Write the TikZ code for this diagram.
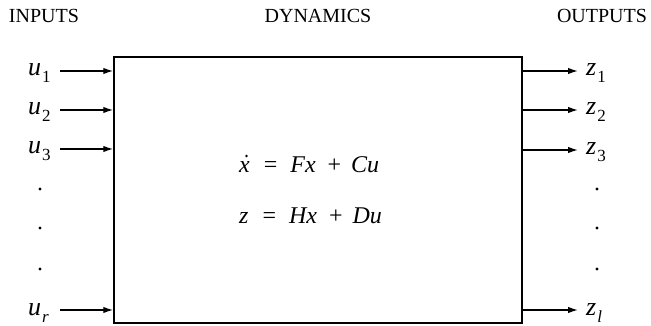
\documentclass[tikz,border=0pt]{standalone}
\usepackage{fontspec}
\setmainfont{Liberation Serif}
\usetikzlibrary{arrows.meta}
\newcommand{\lbl}[2]{\fontsize{26}{26}\selectfont\textit{#1}\hspace{1pt}\raisebox{-7pt}{\fontsize{17}{17}\selectfont #2}}
\begin{document}
\begin{tikzpicture}[x=1pt,y=-1pt,
  arr/.style={line width=1.4pt,-{Latex[length=10pt,width=6.5pt]}},
  hdr/.style={font=\fontsize{20}{20}\selectfont,inner sep=0pt,anchor=base},
  lab/.style={inner sep=0pt,anchor=base west},
  eqn/.style={font=\fontsize{24}{24}\selectfont,inner sep=0pt,anchor=base west},
  dotmark/.style={circle,fill,inner sep=0pt,minimum size=3.4pt}]
\useasboundingbox (0,0) rectangle (651,326);
\node[hdr] (hin) at (44,23) {INPUTS};
\node[hdr] (hdyn) at (318,23) {DYNAMICS};
\node[hdr] (hout) at (602,23) {OUTPUTS};
\node[draw,line width=1.5pt,minimum width=408pt,minimum height=266pt,inner sep=0pt] (box) at (318,190) {};
% inputs
\foreach \n/\s/\y in {u1/1/71,u2/2/110,u3/3/149,ur/\textit{r}/310}{
  \node[lab] (l\n) at (28,\y+5) {\lbl{u}{\s}};
  \coordinate (s\n) at (60,\y);
  \draw[arr] (s\n) -- (box.west |- s\n);
}
\foreach \n/\s/\y in {z1/1/71,z2/2/110,z3/3/150,zl/\textit{l}/310}{
  \coordinate (e\n) at (578,\y);
  \draw[arr] (box.east |- e\n) -- (e\n);
  \node[lab] (l\n) at (586,\y+5) {\lbl{z}{\s}};
}
\node[dotmark] (di1) at (40,189) {};
\node[dotmark] (di2) at (40,228) {};
\node[dotmark] (di3) at (40,269) {};
\node[dotmark] (do1) at (597,189) {};
\node[dotmark] (do2) at (597,228) {};
\node[dotmark] (do3) at (597,269) {};
\node[eqn] (eq1) at (239,172) {\textit{x}\hspace{14pt}=\hspace{13pt}\textit{Fx}\hspace{12pt}+\hspace{10pt}\textit{Cu}};
\node[dotmark,minimum size=2.8pt] (xdot) at (246.5,156) {};
\node[eqn] (eq2) at (239,223) {\textit{z}\hspace{14pt}=\hspace{13pt}\textit{Hx}\hspace{12pt}+\hspace{10pt}\textit{Du}};
\end{tikzpicture}
\end{document}
